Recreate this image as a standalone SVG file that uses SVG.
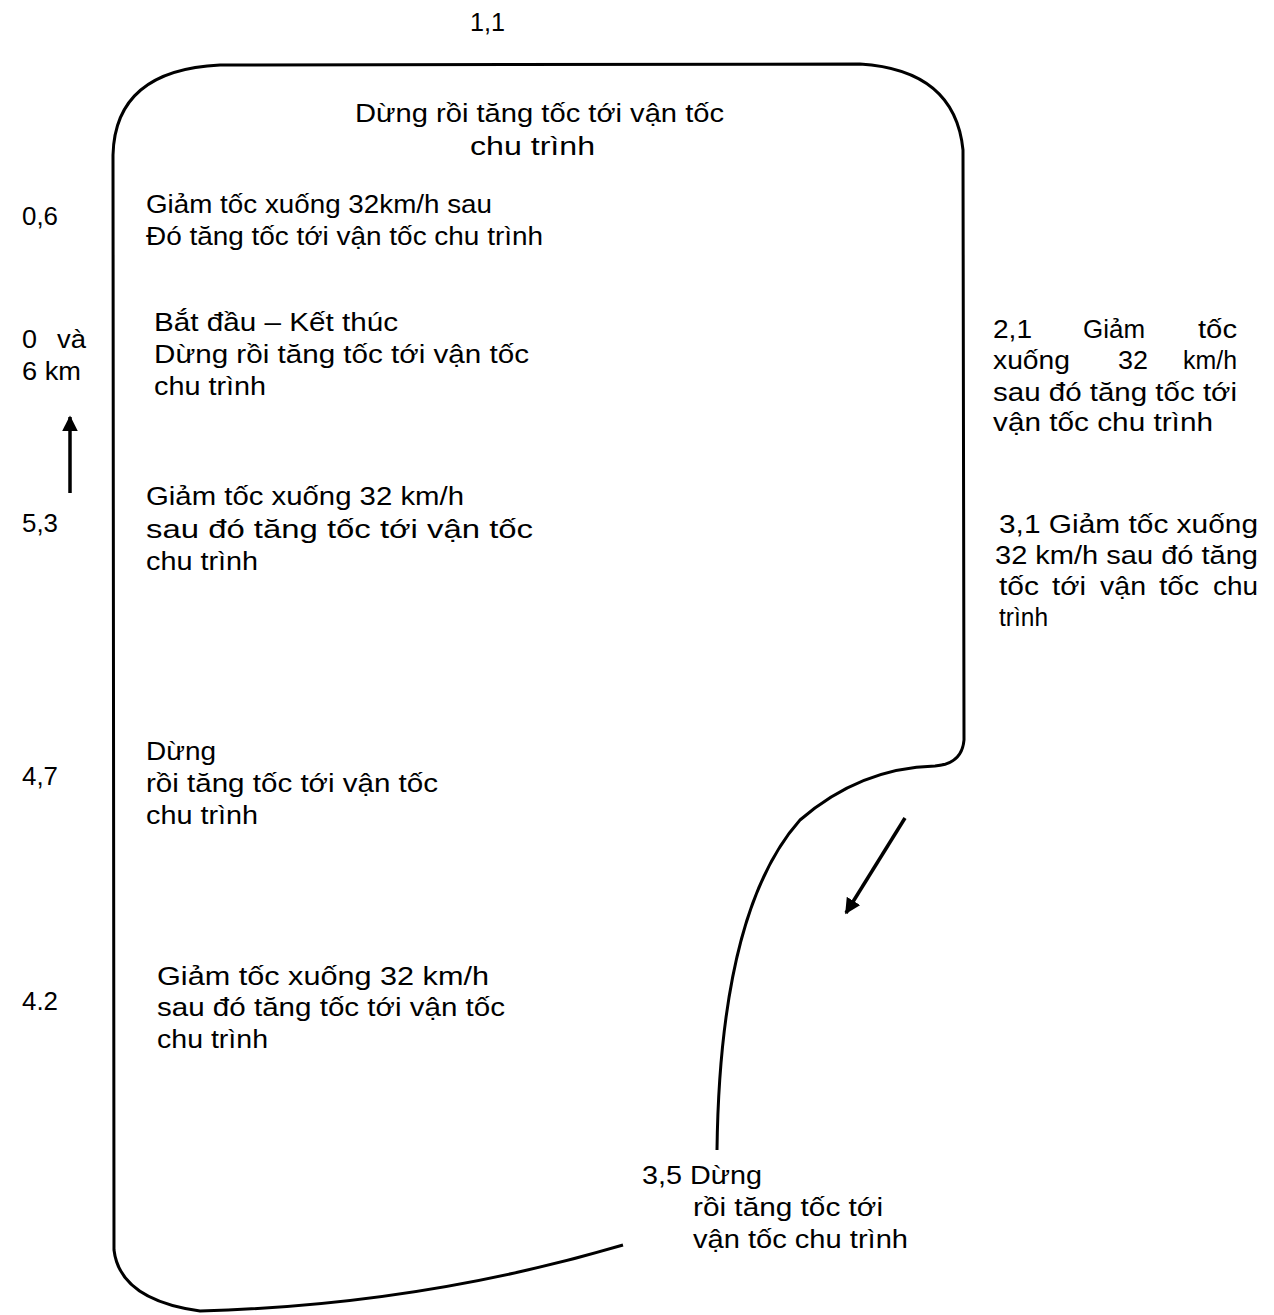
<svg xmlns="http://www.w3.org/2000/svg" width="1274" height="1315" viewBox="0 0 1274 1315">
<defs>
<marker id="ah" viewBox="0 0 10 10" refX="9" refY="5" markerWidth="4.5" markerHeight="4.5" orient="auto" markerUnits="strokeWidth">
<path d="M0,0 L10,5 L0,10 z" fill="#000"/>
</marker>
<style>
text{font-family:"Liberation Sans",Arial,sans-serif;font-size:26px;fill:#000}
.track{fill:none;stroke:#000;stroke-width:3}
.arr{fill:none;stroke:#000;stroke-width:3.5;marker-end:url(#ah)}
</style>
</defs>
<rect width="1274" height="1315" fill="#fff"/>
<g id="track">
<path class="track" d="M623,1245 Q420,1305 200,1311 Q120,1300 114,1250 L113,155 Q115,70 220,65 L860,64 Q955,70 963,150 L964,740 Q962,764 935,766 Q860,768 800,820 Q720,910 717,1150"/>
</g>
<g id="connectors">
<path class="arr" d="M70,493 L70,417"/>
<path class="arr" d="M905,818 L846,913"/>
</g>
<g id="labels">
<text x="470" y="31" textLength="35" lengthAdjust="spacingAndGlyphs">1,1</text>
<text x="355" y="122" textLength="369" lengthAdjust="spacingAndGlyphs">Dừng rồi tăng tốc tới vận tốc</text>
<text x="470" y="155" textLength="125" lengthAdjust="spacingAndGlyphs">chu trình</text>
<text x="22" y="225" textLength="36" lengthAdjust="spacingAndGlyphs">0,6</text>
<text x="146" y="213" textLength="346" lengthAdjust="spacingAndGlyphs">Giảm tốc xuống 32km/h sau</text>
<text x="146" y="245" textLength="397" lengthAdjust="spacingAndGlyphs">Đó tăng tốc tới vận tốc chu trình</text>
<text x="22" y="348" textLength="15" lengthAdjust="spacingAndGlyphs">0</text>
<text x="57" y="348" textLength="29" lengthAdjust="spacingAndGlyphs">và</text>
<text x="22" y="380" textLength="59" lengthAdjust="spacingAndGlyphs">6 km</text>
<text x="154" y="331" textLength="244" lengthAdjust="spacingAndGlyphs">Bắt đầu – Kết thúc</text>
<text x="154" y="363" textLength="375" lengthAdjust="spacingAndGlyphs">Dừng rồi tăng tốc tới vận tốc</text>
<text x="154" y="395" textLength="112" lengthAdjust="spacingAndGlyphs">chu trình</text>
<text x="22" y="532" textLength="36" lengthAdjust="spacingAndGlyphs">5,3</text>
<text x="146" y="505" textLength="318" lengthAdjust="spacingAndGlyphs">Giảm tốc xuống 32 km/h</text>
<text x="146" y="538" textLength="387" lengthAdjust="spacingAndGlyphs">sau đó tăng tốc tới vận tốc</text>
<text x="146" y="570" textLength="112" lengthAdjust="spacingAndGlyphs">chu trình</text>
<text x="22" y="785" textLength="36" lengthAdjust="spacingAndGlyphs">4,7</text>
<text x="146" y="760" textLength="70" lengthAdjust="spacingAndGlyphs">Dừng</text>
<text x="146" y="792" textLength="292" lengthAdjust="spacingAndGlyphs">rồi tăng tốc tới vận tốc</text>
<text x="146" y="824" textLength="112" lengthAdjust="spacingAndGlyphs">chu trình</text>
<text x="22" y="1010" textLength="36" lengthAdjust="spacingAndGlyphs">4.2</text>
<text x="157" y="985" textLength="332" lengthAdjust="spacingAndGlyphs">Giảm tốc xuống 32 km/h</text>
<text x="157" y="1016" textLength="348" lengthAdjust="spacingAndGlyphs">sau đó tăng tốc tới vận tốc</text>
<text x="157" y="1048" textLength="111" lengthAdjust="spacingAndGlyphs">chu trình</text>
<text x="993" y="338" textLength="39" lengthAdjust="spacingAndGlyphs">2,1</text>
<text x="1083" y="338" textLength="62" lengthAdjust="spacingAndGlyphs">Giảm</text>
<text x="1198" y="338" textLength="39" lengthAdjust="spacingAndGlyphs">tốc</text>
<text x="993" y="369" textLength="77" lengthAdjust="spacingAndGlyphs">xuống</text>
<text x="1118" y="369" textLength="30" lengthAdjust="spacingAndGlyphs">32</text>
<text x="1183" y="369" textLength="54" lengthAdjust="spacingAndGlyphs">km/h</text>
<text x="993" y="401" textLength="244" lengthAdjust="spacingAndGlyphs">sau đó tăng tốc tới</text>
<text x="993" y="431" textLength="220" lengthAdjust="spacingAndGlyphs">vận tốc chu trình</text>
<text x="999" y="533" textLength="259" lengthAdjust="spacingAndGlyphs">3,1 Giảm tốc xuống</text>
<text x="995" y="564" textLength="263" lengthAdjust="spacingAndGlyphs">32 km/h sau đó tăng</text>
<text x="999" y="595" textLength="40" lengthAdjust="spacingAndGlyphs">tốc</text>
<text x="1052" y="595" textLength="34" lengthAdjust="spacingAndGlyphs">tới</text>
<text x="1100" y="595" textLength="46" lengthAdjust="spacingAndGlyphs">vận</text>
<text x="1159" y="595" textLength="40" lengthAdjust="spacingAndGlyphs">tốc</text>
<text x="1213" y="595" textLength="45" lengthAdjust="spacingAndGlyphs">chu</text>
<text x="999" y="626" textLength="49" lengthAdjust="spacingAndGlyphs">trình</text>
<text x="642" y="1184" textLength="120" lengthAdjust="spacingAndGlyphs">3,5 Dừng</text>
<text x="693" y="1216" textLength="190" lengthAdjust="spacingAndGlyphs">rồi tăng tốc tới</text>
<text x="693" y="1248" textLength="215" lengthAdjust="spacingAndGlyphs">vận tốc chu trình</text>
</g>
</svg>
